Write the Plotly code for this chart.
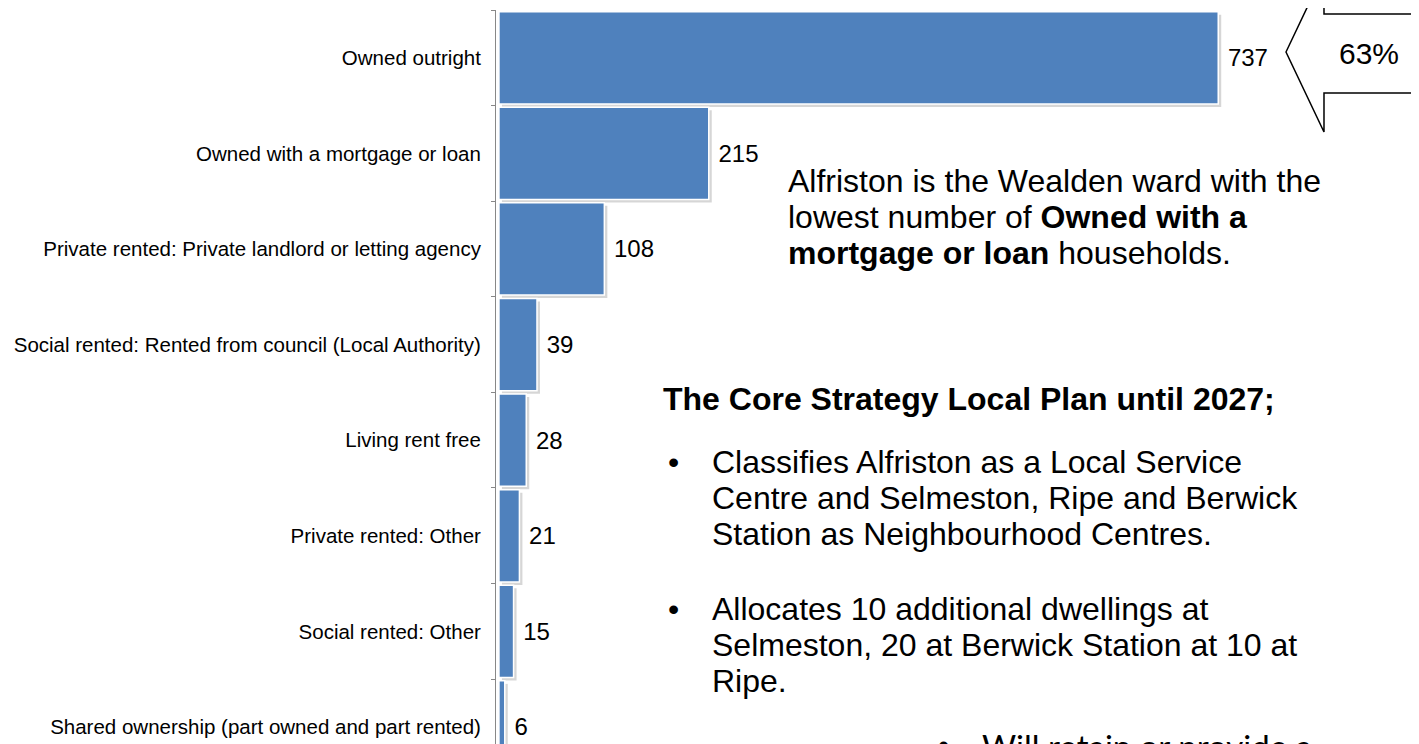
import plotly.graph_objects as go

categories = [
    "Owned outright",
    "Owned with a mortgage or loan",
    "Private rented: Private landlord or letting agency",
    "Social rented: Rented from council (Local Authority)",
    "Living rent free",
    "Private rented: Other",
    "Social rented: Other",
    "Shared ownership (part owned and part rented)",
]
households = [737, 215, 108, 39, 28, 21, 15, 6]

PAGE_OFF = 8                      # default body margin of the html page
FIG_W, FIG_H = 1419 - PAGE_OFF, 744 - PAGE_OFF
L, T, R, B = 496 - PAGE_OFF, 10 - PAGE_OFF, 0, 0
W = FIG_W - L - R
H = FIG_H - T - B
X0, X1 = -3, 942.7
Y_TOP, Y_BOT = -0.5, 7.178
BAR_W = 0.965
FONT = "Arial, Liberation Sans, sans-serif"


def px(x):
    """screen pixel x -> paper fraction"""
    return (x - PAGE_OFF - L) / W


def py(y):
    """screen pixel y -> paper fraction"""
    return 1 - (y - PAGE_OFF - T) / H


unit_x = (X1 - X0) / W          # data units per pixel (x)
unit_y = (Y_BOT - Y_TOP) / H    # category units per pixel (y)

fig = go.Figure()

# soft shadow behind each bar
fig.add_trace(go.Bar(
    y=categories, x=households, orientation="h",
    base=3 * unit_x,
    width=BAR_W, offset=-BAR_W / 2 + 3 * unit_y,
    marker=dict(color="rgba(0,0,0,0.16)", line=dict(width=0)),
    hoverinfo="skip", showlegend=False,
))

fig.add_trace(go.Bar(
    y=categories, x=households, orientation="h",
    width=BAR_W,
    marker=dict(color="#4F81BD", line=dict(color="white", width=1.5)),
    text=households, texttemplate=" %{x}", textposition="outside",
    textfont=dict(family=FONT, size=24, color="black"),
    cliponaxis=False, showlegend=False,
))

fig.update_layout(
    width=FIG_W, height=FIG_H,
    margin=dict(l=L, r=R, t=T, b=B, pad=0),
    paper_bgcolor="white", plot_bgcolor="white",
    barmode="overlay",
    xaxis=dict(range=[X0, X1], visible=False, fixedrange=True),
    yaxis=dict(
        type="category", range=[Y_BOT, Y_TOP],
        tickson="boundaries", ticks="outside", ticklen=4, tickcolor="#888888",
        showline=True, linecolor="#888888", linewidth=1,
        showgrid=False, zeroline=False,
        tickfont=dict(family=FONT, size=20.5, color="black"),
        ticklabelstandoff=10,
    ),
    font=dict(family=FONT, color="black"),
)

# Left-pointing arrow callout with 63%
pts = [(1286, 52), (1324, -28), (1324, 14), (1440, 14), (1440, 93),
       (1324, 93), (1324, 132)]
path = "M " + " L ".join(f"{px(x):.5f},{py(y):.5f}" for x, y in pts) + " Z"
fig.add_shape(type="path", path=path, xref="paper", yref="paper",
              line=dict(color="black", width=1.5), fillcolor="white", layer="above")
fig.add_annotation(x=px(1369), y=py(53), xref="paper", yref="paper",
                   text="63%", showarrow=False, xanchor="center", yanchor="middle",
                   font=dict(family=FONT, size=30, color="black"))

# Explanatory text blocks
lines = [
    (786, 181, "Alfriston is the Wealden ward with the"),
    (786, 217, "lowest number of <b>Owned with a</b>"),
    (786, 253, "<b>mortgage or loan</b> households."),
    (661, 399, "<b>The Core Strategy Local Plan until 2027;</b>"),
    (710, 462, "Classifies Alfriston as a Local Service"),
    (710, 498, "Centre and Selmeston, Ripe and Berwick"),
    (710, 534, "Station as Neighbourhood Centres."),
    (710, 609, "Allocates 10 additional dwellings at"),
    (710, 645, "Selmeston, 20 at Berwick Station at 10 at"),
    (710, 681, "Ripe."),
]
for x, y, t in lines:
    fig.add_annotation(x=px(x), y=py(y), xref="paper", yref="paper", text=t,
                       showarrow=False, xanchor="left", yanchor="middle",
                       font=dict(family=FONT, size=32, color="black"))

for x, y in [(666, 462), (666, 609)]:
    fig.add_annotation(x=px(x), y=py(y), xref="paper", yref="paper", text="•",
                       showarrow=False, xanchor="left", yanchor="middle",
                       font=dict(family=FONT, size=32, color="black"))

fig.add_annotation(x=px(936), y=py(745), xref="paper", yref="paper", text="•",
                   showarrow=False, xanchor="left", yanchor="middle",
                   font=dict(family=FONT, size=32, color="black"))
fig.add_annotation(x=px(980), y=py(746), xref="paper", yref="paper",
                   text="Will retain or provide a", showarrow=False,
                   xanchor="left", yanchor="middle",
                   font=dict(family="Lato, Open Sans, sans-serif", size=33, color="black"))

fig.write_html("out.html")
